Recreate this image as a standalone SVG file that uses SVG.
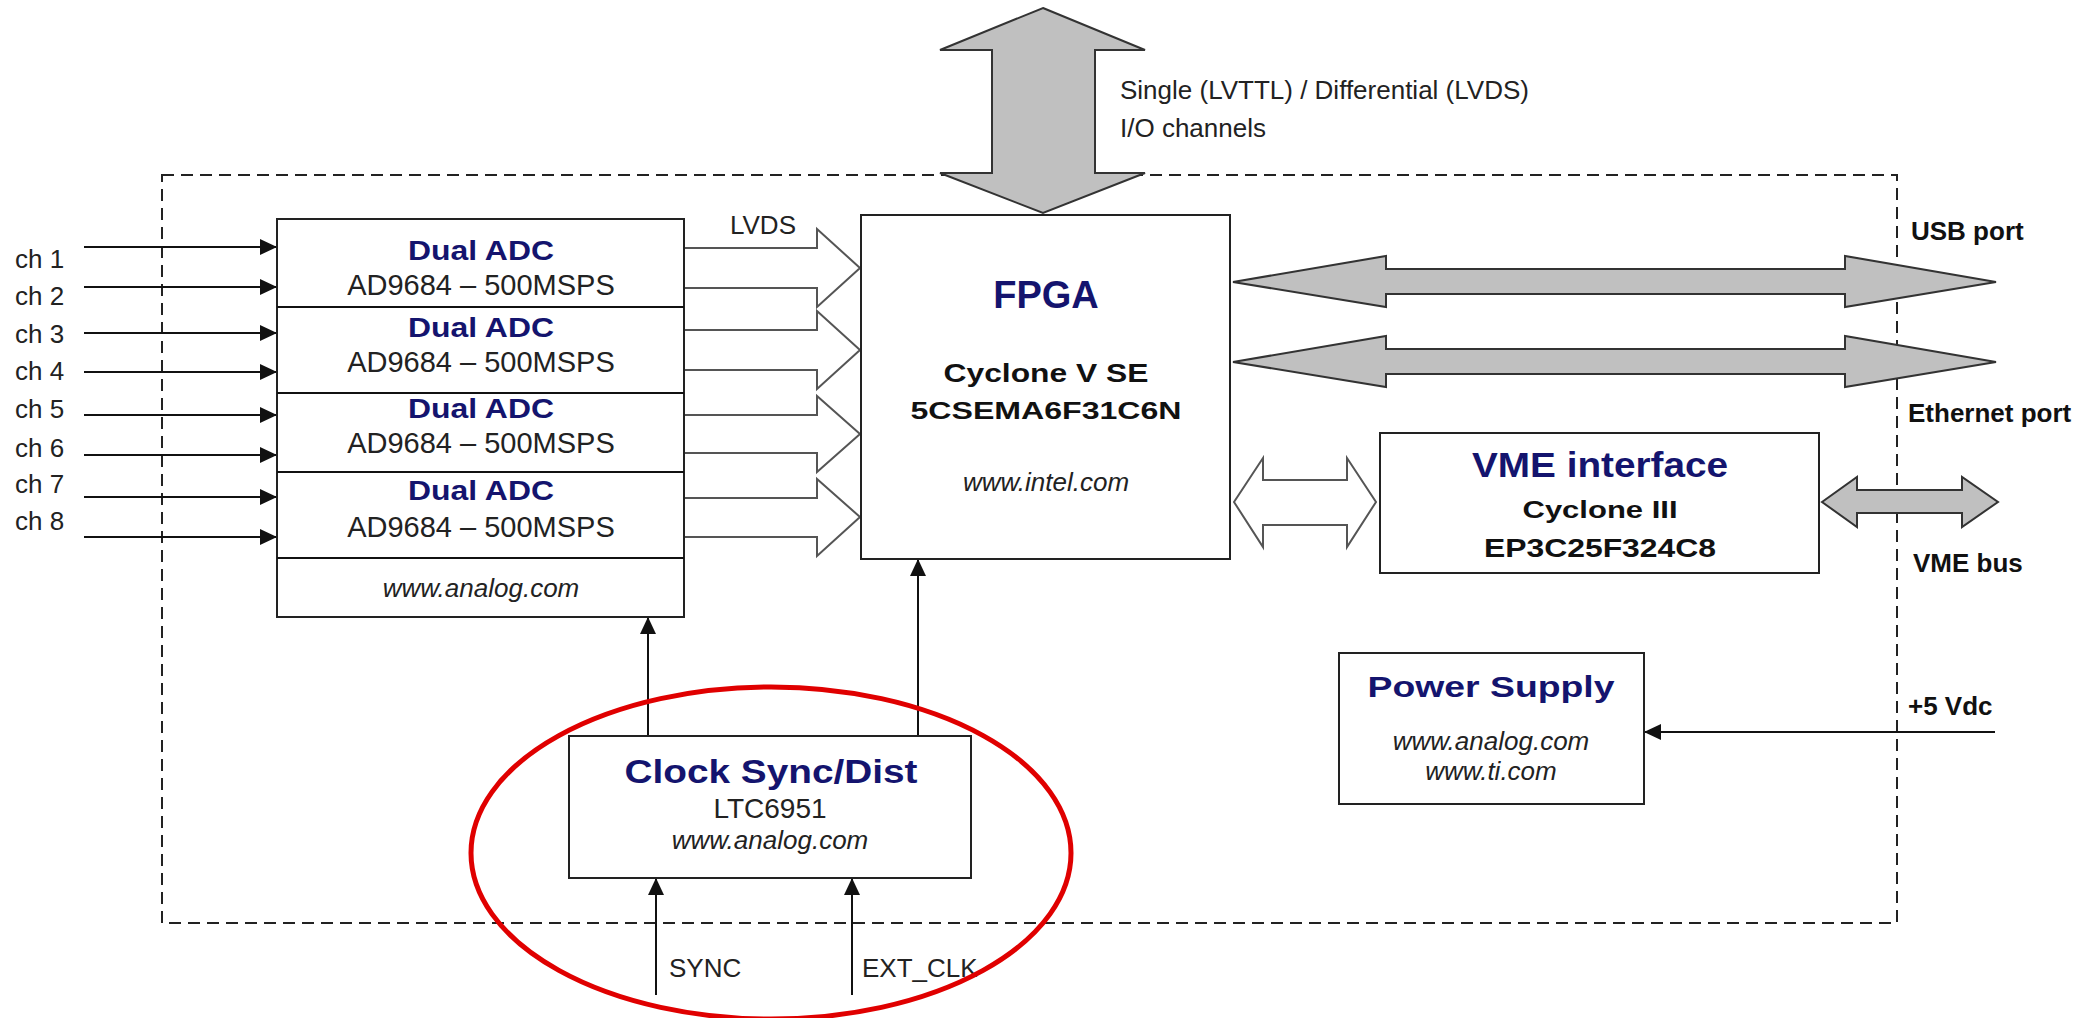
<svg xmlns="http://www.w3.org/2000/svg" width="2095" height="1018" viewBox="0 0 2095 1018">
<defs>
<marker id="ah" markerUnits="userSpaceOnUse" markerWidth="17" markerHeight="16" refX="17" refY="8" orient="auto" viewBox="0 0 17 16"><path d="M0,0 L17,8 L0,16 z" fill="#111"/></marker>
<style>
.box{fill:#fff;stroke:#222;stroke-width:2}
.t{font-family:"Liberation Sans",Arial,sans-serif;fill:#222;font-size:26px}
.h{font-weight:bold;fill:#14146e}
.b{font-weight:bold;fill:#111}
.i{font-style:italic}
.m{text-anchor:middle}
.wire{stroke:#111;stroke-width:2;fill:none}
.bus{fill:#c0c0c0;stroke:#333;stroke-width:2}
.hol{fill:#fff;stroke:#555;stroke-width:2}
</style>
</defs>
<rect width="2095" height="1018" fill="#fff"/>
<rect id="boundary" x="162" y="175" width="1735" height="748" fill="none" stroke="#222" stroke-width="2" stroke-dasharray="12 7"/>

<g id="connectors">
  <line class="wire" x1="84" y1="247" x2="277" y2="247" marker-end="url(#ah)"/>
  <line class="wire" x1="84" y1="287" x2="277" y2="287" marker-end="url(#ah)"/>
  <line class="wire" x1="84" y1="333" x2="277" y2="333" marker-end="url(#ah)"/>
  <line class="wire" x1="84" y1="372" x2="277" y2="372" marker-end="url(#ah)"/>
  <line class="wire" x1="84" y1="415" x2="277" y2="415" marker-end="url(#ah)"/>
  <line class="wire" x1="84" y1="455" x2="277" y2="455" marker-end="url(#ah)"/>
  <line class="wire" x1="84" y1="497" x2="277" y2="497" marker-end="url(#ah)"/>
  <line class="wire" x1="84" y1="537" x2="277" y2="537" marker-end="url(#ah)"/>
  <path class="hol" d="M684,248 H817 V229 L860,268 L817,307 V288 H684"/>
  <path class="hol" d="M684,330 H817 V311 L860,350 L817,389 V370 H684"/>
  <path class="hol" d="M684,415 H817 V396 L860,434 L817,472 V453 H684"/>
  <path class="hol" d="M684,498 H817 V479 L860,517 L817,556 V537 H684"/>
  <path class="bus" d="M1043,8 L1145,50 H1095 V173 H1145 L1043,213 L940,173 H992 V50 H940 Z"/>
  <path class="bus" d="M1233,282 L1386,256 V269 H1845 V256 L1996,282 L1845,307 V294 H1386 V307 Z"/>
  <path class="bus" d="M1233,362 L1386,336 V349 H1845 V336 L1996,362 L1845,387 V374 H1386 V387 Z"/>
  <path class="hol" d="M1234,502 L1263,458 V480 H1347 V458 L1376,502 L1347,547 V525 H1263 V547 Z"/>
  <path class="bus" d="M1822,502 L1857,477 V490 H1962 V477 L1998,502 L1962,527 V513 H1857 V527 Z"/>
  <line class="wire" x1="648" y1="736" x2="648" y2="617" marker-end="url(#ah)"/>
  <line class="wire" x1="918" y1="736" x2="918" y2="559" marker-end="url(#ah)"/>
  <line class="wire" x1="656" y1="995" x2="656" y2="878" marker-end="url(#ah)"/>
  <line class="wire" x1="852" y1="995" x2="852" y2="878" marker-end="url(#ah)"/>
  <line class="wire" x1="1995" y1="732" x2="1644" y2="732" marker-end="url(#ah)"/>
</g>

<g id="adc">
  <rect class="box" x="277" y="219" width="407" height="398"/>
  <line class="wire" x1="277" y1="307" x2="684" y2="307"/>
  <line class="wire" x1="277" y1="393" x2="684" y2="393"/>
  <line class="wire" x1="277" y1="472" x2="684" y2="472"/>
  <line class="wire" x1="277" y1="558" x2="684" y2="558"/>
  <g class="t m">
    <text class="h" x="481" y="260" font-size="28" textLength="146" lengthAdjust="spacingAndGlyphs">Dual ADC</text>
    <text x="481" y="295" font-size="29">AD9684 – 500MSPS</text>
    <text class="h" x="481" y="337" font-size="28" textLength="146" lengthAdjust="spacingAndGlyphs">Dual ADC</text>
    <text x="481" y="372" font-size="29">AD9684 – 500MSPS</text>
    <text class="h" x="481" y="418" font-size="28" textLength="146" lengthAdjust="spacingAndGlyphs">Dual ADC</text>
    <text x="481" y="453" font-size="29">AD9684 – 500MSPS</text>
    <text class="h" x="481" y="500" font-size="28" textLength="146" lengthAdjust="spacingAndGlyphs">Dual ADC</text>
    <text x="481" y="537" font-size="29">AD9684 – 500MSPS</text>
    <text class="i" x="481" y="597">www.analog.com</text>
  </g>
</g>

<g id="fpga">
  <rect class="box" x="861" y="215" width="369" height="344"/>
  <g class="t m">
    <text class="h" x="1046" y="308" font-size="38">FPGA</text>
    <text class="b" x="1046" y="382" font-size="25" textLength="205" lengthAdjust="spacingAndGlyphs">Cyclone V SE</text>
    <text class="b" x="1046" y="419" font-size="24.5" textLength="271" lengthAdjust="spacingAndGlyphs">5CSEMA6F31C6N</text>
    <text class="i" x="1046" y="491">www.intel.com</text>
  </g>
</g>

<g id="vme">
  <rect class="box" x="1380" y="433" width="439" height="140"/>
  <g class="t m">
    <text class="h" x="1600" y="477" font-size="35" textLength="256" lengthAdjust="spacingAndGlyphs">VME interface</text>
    <text class="b" x="1600" y="518" font-size="24.5" textLength="155" lengthAdjust="spacingAndGlyphs">Cyclone III</text>
    <text class="b" x="1600" y="557" font-size="25" textLength="232" lengthAdjust="spacingAndGlyphs">EP3C25F324C8</text>
  </g>
</g>

<g id="power">
  <rect class="box" x="1339" y="653" width="305" height="151"/>
  <g class="t m">
    <text class="h" x="1491" y="697" font-size="29" textLength="247" lengthAdjust="spacingAndGlyphs">Power Supply</text>
    <text class="i" x="1491" y="750">www.analog.com</text>
    <text class="i" x="1491" y="780">www.ti.com</text>
  </g>
</g>

<g id="clock">
  <rect class="box" x="569" y="736" width="402" height="142"/>
  <g class="t m">
    <text class="h" x="771" y="783" font-size="34" textLength="293" lengthAdjust="spacingAndGlyphs">Clock Sync/Dist</text>
    <text x="770" y="818" font-size="28">LTC6951</text>
    <text class="i" x="770" y="849">www.analog.com</text>
  </g>
</g>

<g id="labels" class="t">
  <text x="15" y="268">ch 1</text>
  <text x="15" y="305">ch 2</text>
  <text x="15" y="343">ch 3</text>
  <text x="15" y="380">ch 4</text>
  <text x="15" y="418">ch 5</text>
  <text x="15" y="457">ch 6</text>
  <text x="15" y="493">ch 7</text>
  <text x="15" y="530">ch 8</text>
  <text x="730" y="234">LVDS</text>
  <text x="1120" y="99">Single (LVTTL) / Differential (LVDS)</text>
  <text x="1120" y="137">I/O channels</text>
  <text class="b" x="1911" y="240">USB port</text>
  <text class="b" x="1908" y="422">Ethernet port</text>
  <text class="b" x="1913" y="572">VME bus</text>
  <text class="b" x="1908" y="715">+5 Vdc</text>
  <text x="669" y="977">SYNC</text>
  <text x="862" y="977">EXT_CLK</text>
</g>

<ellipse id="highlight" cx="771" cy="853" rx="300" ry="166" fill="none" stroke="#e00000" stroke-width="5"/>
</svg>
